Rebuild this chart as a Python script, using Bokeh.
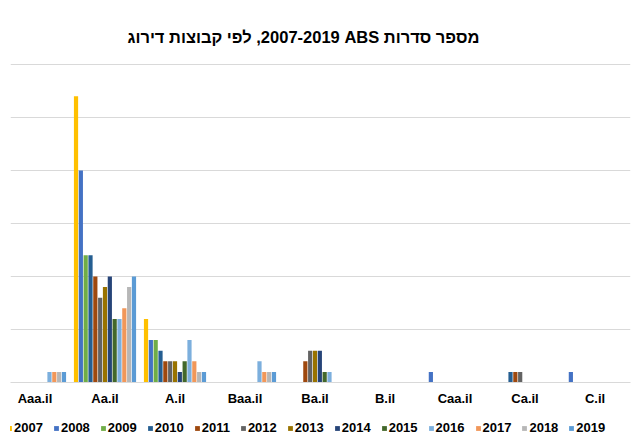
from bokeh.plotting import figure
from bokeh.layouts import column
from bokeh.models import (ColumnDataSource, Range1d, FixedTicker, Legend, LegendItem, Title)
from bokeh.embed import file_html
from bokeh.resources import INLINE

categories = ["Aaa.il", "Aa.il", "A.il", "Baa.il", "Ba.il", "B.il", "Caa.il", "Ca.il", "C.il"]
years = ["2007", "2008", "2009", "2010", "2011", "2012", "2013",
         "2014", "2015", "2016", "2017", "2018", "2019"]

v2007 = [0, 27, 6, 0, 0, 0, 0, 0, 0]
v2008 = [0, 20, 4, 0, 0, 0, 1, 0, 1]
v2009 = [0, 12, 4, 0, 0, 0, 0, 0, 0]
v2010 = [0, 12, 3, 0, 0, 0, 0, 1, 0]
v2011 = [0, 10, 2, 0, 2, 0, 0, 1, 0]
v2012 = [0, 8, 2, 0, 3, 0, 0, 1, 0]
v2013 = [0, 9, 2, 0, 3, 0, 0, 0, 0]
v2014 = [0, 10, 1, 0, 3, 0, 0, 0, 0]
v2015 = [0, 6, 2, 0, 1, 0, 0, 0, 0]
v2016 = [1, 6, 4, 2, 1, 0, 0, 0, 0]
v2017 = [1, 7, 2, 1, 0, 0, 0, 0, 0]
v2018 = [1, 9, 1, 1, 0, 0, 0, 0, 0]
v2019 = [1, 10, 1, 1, 0, 0, 0, 0, 0]

series = [v2007, v2008, v2009, v2010, v2011, v2012, v2013,
          v2014, v2015, v2016, v2017, v2018, v2019]

colors = ["#FFC000", "#4472C4", "#70AD47", "#255E91", "#9E480E", "#636363", "#997300",
          "#264478", "#43682B", "#7CAFDD", "#F1975A", "#B7B7B7", "#5B9BD5"]

# visual order as in the reference (RTL embedding, numbers kept apart from "ABS")
title_text = "\u202bמספר סדרות ABS\u200f 2007-2019, לפי קבוצות דירוג\u202c"

FONT = "Liberation Sans"

p = figure(width=632, height=412, output_backend="svg", toolbar_location=None,
           x_range=Range1d(-0.35, 8.507), y_range=Range1d(0, 30.1),
           min_border_left=10, min_border_right=2, min_border_top=63, min_border_bottom=30)

p.title = Title(text=title_text, align="left", offset=117, standoff=35, text_font=FONT,
                text_font_size="16.5px", text_font_style="bold", text_color="#000000")

pitch = 0.069
bw = 0.06
renderers = []
sources = []
for j, (yr, vals, col) in enumerate(zip(years, series, colors)):
    xs = [i + (j - 6) * pitch for i, v in enumerate(vals) if v > 0]
    tops = [v for v in vals if v > 0]
    src = ColumnDataSource(dict(x=xs, top=tops))
    sources.append(src)
    r = p.vbar(x="x", top="top", width=bw, bottom=0, source=src,
               fill_color=col, line_color=None)
    renderers.append(r)

p.yaxis.visible = False
p.xaxis.ticker = FixedTicker(ticks=list(range(len(categories))))
p.xaxis.major_label_overrides = {i: c for i, c in enumerate(categories)}
p.xaxis.axis_line_color = "#D9D9D9"
p.xaxis.major_tick_line_color = None
p.xaxis.major_tick_out = 0
p.xaxis.major_tick_in = 0
p.xaxis.minor_tick_line_color = None
p.xaxis.major_label_text_font = FONT
p.xaxis.major_label_text_font_size = "13px"
p.xaxis.major_label_text_font_style = "bold"
p.xaxis.major_label_text_color = "#000000"
p.xaxis.major_label_standoff = 8

p.xgrid.visible = False
p.ygrid.ticker = FixedTicker(ticks=[0, 5, 10, 15, 20, 25, 30])
p.ygrid.grid_line_color = "#D9D9D9"
p.outline_line_color = None

# legend strip below the chart (same series, drawn outside this strip's view)
lf = figure(width=632, height=23, output_backend="svg", toolbar_location=None,
            x_range=Range1d(100, 101), y_range=Range1d(100, 101),
            x_axis_location=None, y_axis_location=None, min_border=0)
lf.xgrid.visible = False
lf.ygrid.visible = False
lf.outline_line_color = None
lrs = []
for src, col in zip(sources, colors):
    lrs.append(lf.vbar(x="x", top="top", width=bw, bottom=0, source=src,
                       fill_color=col, line_color=None))

legend = Legend(items=[LegendItem(label=y, renderers=[r]) for y, r in zip(years, lrs)],
                orientation="horizontal", location=(-4, 0),
                glyph_width=6, glyph_height=6, label_standoff=2, spacing=10,
                padding=0, margin=0, border_line_color=None, background_fill_alpha=0,
                label_text_font=FONT, label_text_font_size="13px",
                label_text_font_style="bold", label_text_color="#000000",
                label_height=13)
lf.add_layout(legend, "center")

layout = column(p, lf, spacing=0)
open("out.html", "w").write(file_html(layout, INLINE))
